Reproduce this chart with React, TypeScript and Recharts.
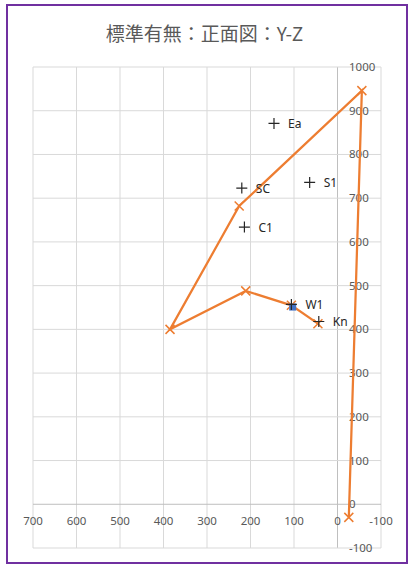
import React from 'react';
import { ScatterChart, Scatter, XAxis, YAxis, ReferenceLine } from 'recharts';

// axis ticks
const xTicks = [700, 600, 500, 400, 300, 200, 100, 0, -100];
const yTicks = [-100, 0, 100, 200, 300, 400, 500, 600, 700, 800, 900, 1000];

// orange outline (Y, Z)
const outlineY = [-26, -56, 226, 385, 211, 106, 45];
const outlineZ = [-30, 946, 682, 400, 488, 455, 413];

// labelled points
const pointNames = ['Ea', 'SC', 'S1', 'C1', 'W1', 'Kn'];
const pointY = [146, 220, 64, 214, 106, 43];
const pointZ = [871, 723, 736, 634, 457, 418];

// blue centre marker
const centreY = [103];
const centreZ = [451];

const outline = outlineY.map((y, i) => ({ x: y, y: outlineZ[i] }));
const points = pointNames.map((name, i) => ({ x: pointY[i], y: pointZ[i], name }));
const centre = centreY.map((y, i) => ({ x: y, y: centreZ[i] }));
const xLabels = xTicks.map((t) => ({ x: t, y: 0, label: String(t) }));
const yLabels = yTicks.map((t) => ({ x: 0, y: t, label: String(t) }));

const FONT = '"Noto Sans", "Open Sans", sans-serif';
const ORANGE = '#ED7D31';
const GRID = '#d9d9d9';

const XMark = (props: any) => {
  const { cx, cy } = props;
  const s = 4.5;
  return (
    <path
      d={`M${cx - s},${cy - s}L${cx + s},${cy + s}M${cx + s},${cy - s}L${cx - s},${cy + s}`}
      stroke={ORANGE}
      strokeWidth={1.5}
      fill="none"
    />
  );
};

const PlusMark = (props: any) => {
  const { cx, cy, payload } = props;
  const s = 5.5;
  return (
    <g>
      <path
        d={`M${cx - s},${cy}L${cx + s},${cy}M${cx},${cy - s}L${cx},${cy + s}`}
        stroke="#262626"
        strokeWidth={1.2}
        fill="none"
      />
      <text x={cx + 14} y={cy + 4.5} fontSize={12} fill="#262626" fontFamily={FONT}>
        {payload.name}
      </text>
    </g>
  );
};

const Square = (props: any) => {
  const { cx, cy } = props;
  return <rect x={cx - 3.5} y={cy - 3.5} width={7} height={7} fill="#4472C4" />;
};

const XTickLabel = (props: any) => {
  const { cx, cy, payload } = props;
  return (
    <text x={cx} y={cy + 21} textAnchor="middle" fontSize={11.5} fill="#595959" fontFamily={FONT}>
      {payload.label}
    </text>
  );
};

const YTickLabel = (props: any) => {
  const { cx, cy, payload } = props;
  return (
    <text x={cx + 11.5} y={cy + 4} textAnchor="start" fontSize={11.5} fill="#595959" fontFamily={FONT}>
      {payload.label}
    </text>
  );
};

const App: React.FC = () => {
  return (
    <div style={{ position: 'absolute', left: 0, top: 0, width: 409, height: 564, background: '#fff' }}>
      <div
        style={{
          position: 'absolute',
          left: 6,
          top: 4,
          width: 402,
          height: 560,
          boxSizing: 'border-box',
          border: '2px solid #7030A0',
        }}
      />
      <div
        style={{
          position: 'absolute',
          top: 21,
          left: 0,
          width: 409,
          textAlign: 'center',
          fontSize: 19,
          lineHeight: '24px',
          color: '#595959',
          fontFamily: '"Noto Sans CJK JP", sans-serif',
        }}
      >
        標準有無：正面図：Y-Z
      </div>
      <div style={{ position: 'absolute', left: 0, top: 0 }}>
        <ScatterChart width={409} height={564} margin={{ top: 67, right: 28, bottom: 16, left: 33 }}>
          <XAxis
            type="number"
            dataKey="x"
            domain={[-100, 700]}
            ticks={xTicks}
            reversed
            height={0}
            tick={false}
            tickLine={false}
            axisLine={false}
          />
          <YAxis
            type="number"
            dataKey="y"
            orientation="right"
            domain={[-100, 1000]}
            ticks={yTicks}
            width={0}
            tick={false}
            tickLine={false}
            axisLine={false}
          />
          {xTicks.map((t) => (
            <ReferenceLine key={`gx${t}`} x={t} stroke={t === 0 ? '#bfbfbf' : GRID} strokeWidth={1} />
          ))}
          {yTicks.map((t) => (
            <ReferenceLine key={`gy${t}`} y={t} stroke={t === 0 ? '#bfbfbf' : GRID} strokeWidth={1} />
          ))}
          <Scatter data={xLabels} shape={<XTickLabel />} isAnimationActive={false} />
          <Scatter data={yLabels} shape={<YTickLabel />} isAnimationActive={false} />
          <Scatter
            data={outline}
            line={{ stroke: ORANGE, strokeWidth: 2.25 }}
            shape={<XMark />}
            isAnimationActive={false}
          />
          <Scatter data={centre} shape={<Square />} isAnimationActive={false} />
          <Scatter data={points} shape={<PlusMark />} isAnimationActive={false} />
        </ScatterChart>
      </div>
    </div>
  );
};

export default App;
